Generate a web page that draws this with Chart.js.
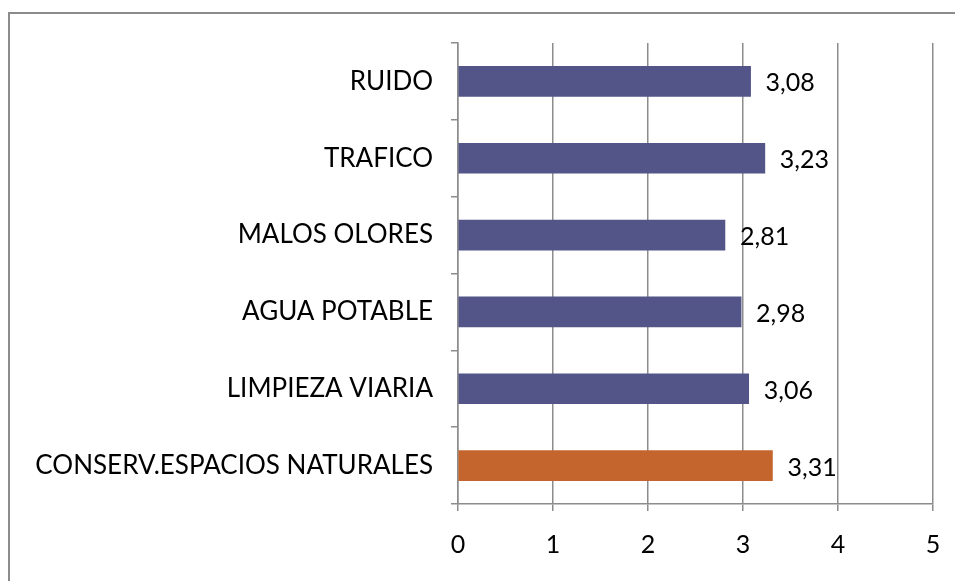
<!DOCTYPE html>
<html>
<head>
<meta charset="utf-8">
<script src="https://cdn.jsdelivr.net/npm/chart.js@4.4.1/dist/chart.umd.min.js"></script>
<style>
  html, body { margin: 0; padding: 0; background: #fff; overflow: hidden; }
  #frame { position: absolute; left: 8px; top: 12px; width: 980px; height: 620px; border: 2px solid #8c8c8c; }
  #wrap { position: absolute; left: 0; top: 0; width: 955px; height: 581px; }
</style>
</head>
<body>
<div id="frame"></div>
<div id="wrap"><canvas id="barChart" width="955" height="581"></canvas></div>
<script>
const categories = ['RUIDO', 'TRAFICO', 'MALOS OLORES', 'AGUA POTABLE', 'LIMPIEZA VIARIA', 'CONSERV.ESPACIOS NATURALES'];
const values = [3.08, 3.23, 2.81, 2.98, 3.06, 3.31];
const barColors = ['#535488', '#535488', '#535488', '#535488', '#535488', '#c4652e'];
const xTicks = [0, 1, 2, 3, 4, 5];

const FONT = 'Lato, "Open Sans", sans-serif';
const GRID = '#8c8c8c';

const valueLabels = {
    id: 'valueLabels',
    afterDatasetsDraw(chart) {
        const ctx = chart.ctx;
        const meta = chart.getDatasetMeta(0);
        ctx.save();
        ctx.font = '25px ' + FONT;
        ctx.fillStyle = '#000';
        ctx.textAlign = 'left';
        ctx.textBaseline = 'middle';
        meta.data.forEach((bar, i) => {
            const txt = values[i].toFixed(2).replace('.', ',');
            ctx.fillText(txt, bar.x + 15, bar.y + 2);
        });
        ctx.restore();
    }
};

new Chart(document.getElementById('barChart').getContext('2d'), {
    type: 'bar',
    data: {
        labels: categories,
        datasets: [{
            data: values,
            backgroundColor: barColors,
            borderWidth: 0,
            barThickness: 30
        }]
    },
    options: {
        indexAxis: 'y',
        responsive: false,
        animation: false,
        devicePixelRatio: 1,
        layout: { padding: { left: 0, right: 22, top: 43, bottom: 0 } },
        plugins: {
            legend: { display: false },
            tooltip: { enabled: false }
        },
        scales: {
            x: {
                min: 0,
                max: 5,
                afterBuildTicks: scale => { scale.ticks = xTicks.map(v => ({ value: v })); },
                afterFit: scale => {
                    scale.height = 77;
                    scale.paddingLeft = 0;
                    scale.paddingRight = 0;
                },
                grid: { color: GRID, lineWidth: 1.5, tickLength: 7, drawTicks: true },
                border: { color: GRID, width: 1.5 },
                ticks: { color: '#000', font: { family: FONT, size: 25 }, padding: 19 }
            },
            y: {
                afterFit: scale => { scale.width = 458; },
                grid: { offset: true, drawOnChartArea: false, color: GRID, lineWidth: 1.5, tickLength: 7 },
                border: { color: GRID, width: 1.5 },
                ticks: { color: '#000', font: { family: FONT, size: 26 }, padding: 18 }
            }
        }
    },
    plugins: [valueLabels]
});
</script>
</body>
</html>
